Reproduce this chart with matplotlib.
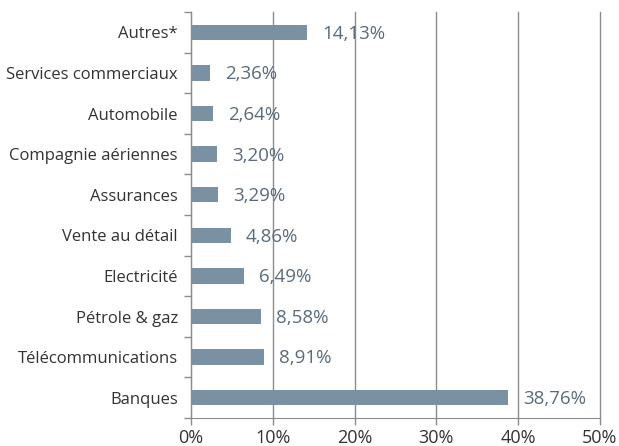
import matplotlib
matplotlib.use("Agg")
import matplotlib.pyplot as plt
from matplotlib.ticker import FixedLocator

# data, top to bottom as in the chart
sectors = ["Autres*", "Services commerciaux", "Automobile", "Compagnie aériennes",
           "Assurances", "Vente au détail", "Electricité", "Pétrole & gaz",
           "Télécommunications", "Banques"]
weights = [14.13, 2.36, 2.64, 3.20, 3.29, 4.86, 6.49, 8.58, 8.91, 38.76]
xticks = [0, 10, 20, 30, 40, 50]

plt.rcParams['font.family'] = ['Open Sans', 'DejaVu Sans']

bar_col = '#7a91a3'
grid_col = '#8c8c8c'

fig = plt.figure(figsize=(6.19, 4.46), dpi=100)
ax = fig.add_axes([0.3086, 0.0628, 0.6607, 0.9102])

pos = list(range(len(sectors)))[::-1]
ax.barh(pos, weights, height=0.38, color=bar_col, zorder=3)

for p, w in zip(pos, weights):
    ax.annotate(f"{w:.2f}%".replace('.', ','), (w, p), xytext=(11, -1),
                textcoords='offset points', va='center', ha='left',
                fontsize=13.5, color='#5b6b7a', zorder=4)

ax.set_xlim(0, 50)
ax.set_ylim(-0.5, len(sectors) - 0.5)
ax.set_xticks(xticks)
ax.set_xticklabels([f"{t}%" for t in xticks], fontsize=13, color='#333333')
ax.set_yticks(pos)
ax.set_yticklabels(sectors, fontsize=12, color='#333333')
ax.yaxis.set_minor_locator(FixedLocator([i - 0.5 for i in range(len(sectors) + 1)]))
ax.tick_params(axis='y', which='major', length=0, pad=9.5)
ax.tick_params(axis='y', which='minor', length=5, color=grid_col, width=1)
ax.tick_params(axis='x', length=5, color=grid_col, width=1, pad=3)

ax.grid(axis='x', color=grid_col, linewidth=1, zorder=0)
for gl in ax.get_xgridlines():
    gl.set_clip_on(False)
for s in ['top', 'right']:
    ax.spines[s].set_visible(False)
ax.spines['left'].set_color(grid_col)
ax.spines['bottom'].set_color(grid_col)

fig.savefig("out.png", dpi=100)
